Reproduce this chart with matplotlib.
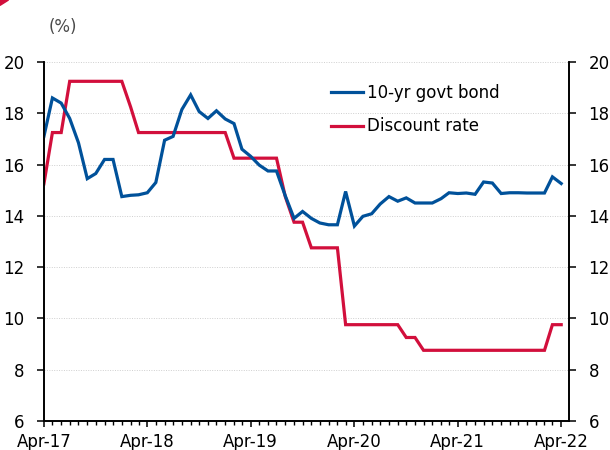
import pandas as pd
import matplotlib
matplotlib.use("Agg")
import matplotlib.pyplot as plt
import matplotlib.dates as mdates
from matplotlib.patches import Polygon

BLUE = "#00519A"
RED = "#D20F3C"

START_MONTH = "2017-04-01"

# monthly yields, Apr-17 .. Apr-22 (%)
bond_10yr = [
    17.1, 18.6, 18.4, 17.8, 16.85, 15.45, 15.65, 16.2, 16.2, 14.75,
    14.8, 14.82, 14.9, 15.3, 16.95, 17.1, 18.15, 18.72, 18.07, 17.8,
    18.1, 17.78, 17.6, 16.6, 16.32, 15.98, 15.75, 15.75, 14.78, 13.9,
    14.17, 13.9, 13.72, 13.65, 13.65, 14.95, 13.6, 13.98, 14.08, 14.46,
    14.75, 14.57, 14.7, 14.5, 14.5, 14.5, 14.67, 14.9, 14.87, 14.89,
    14.84, 15.32, 15.28, 14.87, 14.9, 14.9, 14.89, 14.89, 14.89, 15.52,
    15.26,
]

discount_rate = [
    15.25, 17.25, 17.25, 19.25, 19.25, 19.25, 19.25, 19.25, 19.25, 19.25,
    18.25, 17.25, 17.25, 17.25, 17.25, 17.25, 17.25, 17.25, 17.25, 17.25,
    17.25, 17.25, 16.25, 16.25, 16.25, 16.25, 16.25, 16.25, 14.75, 13.75,
    13.75, 12.75, 12.75, 12.75, 12.75, 9.75, 9.75, 9.75, 9.75, 9.75,
    9.75, 9.75, 9.25, 9.25, 8.75, 8.75, 8.75, 8.75, 8.75, 8.75,
    8.75, 8.75, 8.75, 8.75, 8.75, 8.75, 8.75, 8.75, 8.75, 9.75,
    9.75,
]

Y_TICKS = [6, 8, 10, 12, 14, 16, 18, 20]

plt.rcParams["font.family"] = ["DejaVu Sans"]
plt.rcParams["font.size"] = 12


def style_yaxis(ax, side):
    ax.set_ylim(6, 20)
    ax.set_yticks(Y_TICKS)
    ax.tick_params(axis="y", which="major", direction="out", length=5,
                   width=1.1, pad=9, labelsize=12, color="black")
    if side == "right":
        ax.yaxis.tick_right()


def main():
    months = pd.date_range(START_MONTH, periods=len(bond_10yr), freq="MS")

    fig = plt.figure(figsize=(6.1, 4.5), dpi=100)
    ax = fig.add_axes([0.072, 0.065, 0.861, 0.797])

    ax.plot(months, bond_10yr, color=BLUE, lw=2.3, label="10-yr govt bond",
            solid_joinstyle="miter", zorder=3)
    ax.plot(months, discount_rate, color=RED, lw=2.3, label="Discount rate",
            solid_joinstyle="miter", zorder=2)

    ax.set_xlim(months[0], months[-1] + pd.Timedelta(days=28))
    ax.xaxis.set_major_locator(mdates.MonthLocator(bymonth=4))
    ax.xaxis.set_major_formatter(mdates.DateFormatter("%b-%y"))
    ax.xaxis.set_minor_locator(mdates.MonthLocator())
    ax.tick_params(axis="x", which="major", direction="out", length=4.5,
                   width=1.1, pad=4, labelsize=12)
    ax.tick_params(axis="x", which="minor", direction="out", length=3,
                   width=1.0)

    style_yaxis(ax, "left")
    ax.grid(axis="y", color="#cfcfcf", linestyle=(0, (1, 1.5)), lw=0.7)
    ax.set_axisbelow(True)

    ax2 = ax.twinx()
    style_yaxis(ax2, "right")

    for a in (ax, ax2):
        a.spines["top"].set_visible(False)
        for s in ("left", "right", "bottom"):
            a.spines[s].set_linewidth(1.2)
            a.spines[s].set_color("black")

    ax.legend(loc="upper left", bbox_to_anchor=(0.547, 0.94), frameon=False,
              borderpad=0, borderaxespad=0, handlelength=1.9,
              handletextpad=0.25, labelspacing=0.95, fontsize=12)

    fig.text(0.103, 0.94, "(%)", ha="center", va="center", fontsize=12,
             color="#4a4a4a")

    # small red corner mark of the header band
    fig.patches.append(Polygon([[0, 1], [0.014, 1], [0, 0.988]], closed=True,
                               transform=fig.transFigure, color=RED))

    fig.savefig("out.png", dpi=100)
    plt.close(fig)


if __name__ == "__main__":
    main()
